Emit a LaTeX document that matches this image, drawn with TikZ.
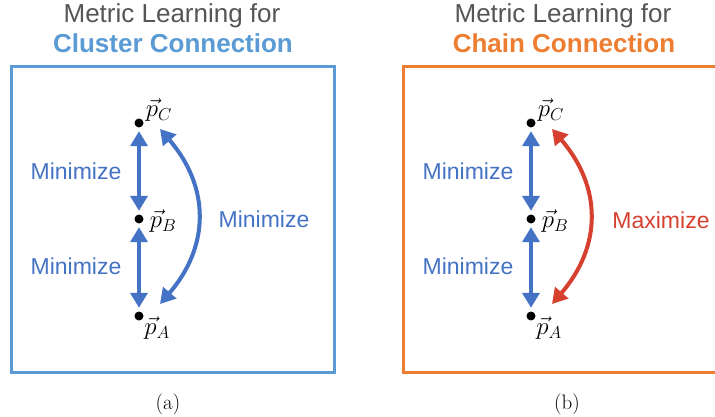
\documentclass[tikz,border=0pt]{standalone}
\usepackage{fontspec}
\setsansfont{Liberation Sans}
\usepackage{tikz}
\usetikzlibrary{positioning,arrows.meta}

\definecolor{boxblue}{HTML}{5B9BD5}
\definecolor{boxorange}{HTML}{ED7D31}
\definecolor{pullblue}{HTML}{4472C4}
\definecolor{pushred}{HTML}{D6402E}
\definecolor{titlegray}{HTML}{555555}

\tikzset{
	dot/.style={circle,fill=black,inner sep=0pt,minimum size=9pt},
	plabel/.style={inner sep=0pt,font=\fontsize{24}{28}\selectfont},
	heading/.style={anchor=base,inner sep=0pt,text=titlegray,font=\sffamily\fontsize{26}{30}\selectfont},
	subheading/.style={heading,font=\sffamily\bfseries\fontsize{26}{30}\selectfont},
	hint/.style={inner sep=0pt,text=pullblue,font=\sffamily\fontsize{23}{27}\selectfont},
	caption/.style={font=\fontsize{21}{25}\selectfont},
	pull/.style={line width=4pt,pullblue,{Triangle[width=17pt,length=15pt]}-{Triangle[width=17pt,length=15pt]},shorten <=3.5pt,shorten >=3.5pt},
	curved/.style={line width=4pt,{Triangle[width=17pt,length=15pt]}-{Triangle[width=17pt,length=15pt]}},
}

\begin{document}
\begin{tikzpicture}[x=1pt,y=-1pt]
	\useasboundingbox (0,0) rectangle (715,417);

	% (a) cluster connection
	\node[heading] (ta) at (172,23) {Metric Learning for};
	\node[subheading,text=boxblue] (sa) at (173,53) {Cluster Connection};
	\draw[boxblue,line width=3pt] (11,67) rectangle (334,372);
	\node[dot] (pc) at (139,123) {};
	\node[dot] (pb) at (139,219) {};
	\node[dot] (pa) at (139,316) {};
	\node[plabel] (lc) at (159,110) {$\vec{p}_C$};
	\node[plabel] (lb) at (163,221) {$\vec{p}_B$};
	\node[plabel] (la) at (157,328) {$\vec{p}_A$};
	\draw[pull] (pc) -- (pb);
	\draw[pull] (pb) -- (pa);
	\coordinate (ce) at (160,129);
	\coordinate (ae) at (160,304);
	\draw[curved,pullblue] (ce) .. controls +(50,58) and +(50,-58) .. (ae);
	\node[hint] (m1) at (76,171) {Minimize};
	\node[hint] (m2) at (76,266) {Minimize};
	\node[hint] (m3) at (264,219) {Minimize};
	\node[caption] (capa) at (168,404) {(a)};

	% (b) chain connection
	\node[heading] (tb) at (563,23) {Metric Learning for};
	\node[subheading,text=boxorange] (sb) at (564,53) {Chain Connection};
	\draw[boxorange,line width=3pt] (403,67) rectangle (726,372);
	\node[dot] (qc) at (531,123) {};
	\node[dot] (qb) at (531,219) {};
	\node[dot] (qa) at (531,316) {};
	\node[plabel] (kc) at (551,110) {$\vec{p}_C$};
	\node[plabel] (kb) at (555,221) {$\vec{p}_B$};
	\node[plabel] (ka) at (549,328) {$\vec{p}_A$};
	\draw[pull] (qc) -- (qb);
	\draw[pull] (qb) -- (qa);
	\coordinate (de) at (552,129);
	\coordinate (be) at (552,304);
	\draw[curved,pushred] (de) .. controls +(50,58) and +(50,-58) .. (be);
	\node[hint] (n1) at (468,171) {Minimize};
	\node[hint] (n2) at (468,266) {Minimize};
	\node[hint,text=pushred] (n3) at (661,220) {Maximize};
	\node[caption] (capb) at (567,404) {(b)};
\end{tikzpicture}
\end{document}
